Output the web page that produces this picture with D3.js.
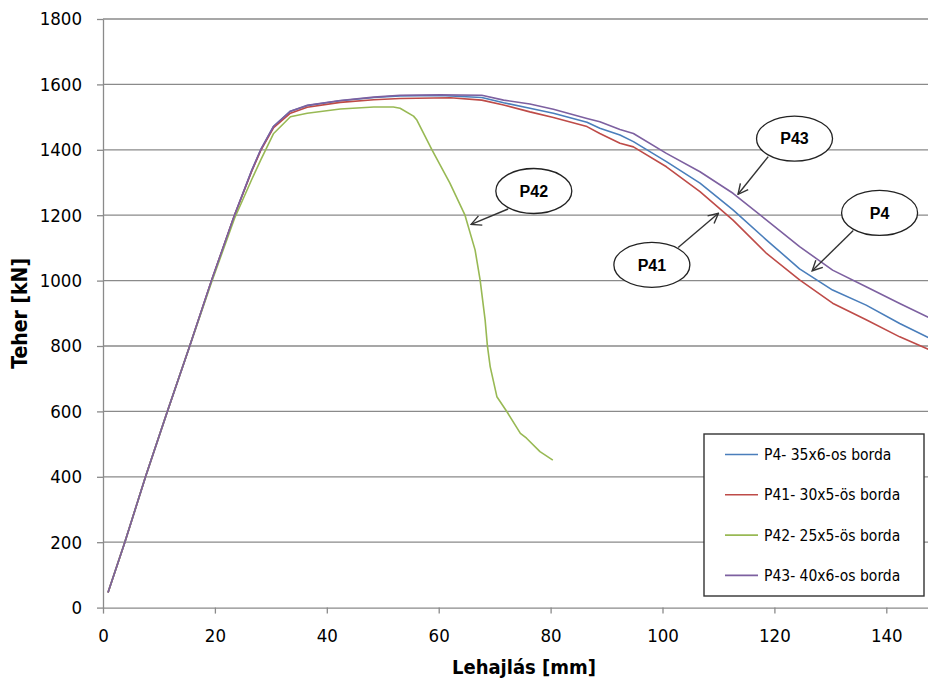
<!DOCTYPE html>
<html>
<head>
<meta charset="utf-8"/>
<title>Teher - Lehajlás</title>
<style>
body {margin: 0; background: #fff}
svg {display: block}
</style>
</head>
<body>
<div id="chart"></div>

<script src="https://d3js.org/d3.v7.min.js"></script>
<script>
// deflection [mm] and load [kN]
var p4_x  = [0.9, 3.9, 7.6, 11.5, 15.5, 19.4, 23.5, 26.6, 28.2, 30.5, 33.5, 36.5, 42.4, 48.4, 53.1, 60.3, 67.7, 71.6, 76.3, 80.5, 86.5, 88.8, 92.4, 94.8, 100.7, 106.7, 112.6, 118.6, 124.5, 130.4, 136.4, 142.4, 147.5]
var p4_y  = [46, 200, 400, 600, 800, 1000, 1200, 1337, 1400, 1472, 1518, 1535, 1550, 1560, 1565, 1566, 1560, 1544, 1527, 1512, 1484, 1466, 1445, 1425, 1364, 1298, 1216, 1124, 1036, 971, 925, 869, 826]

var p41_x = [0.9, 3.9, 7.6, 11.5, 15.5, 19.4, 23.5, 26.6, 28.2, 30.5, 33.5, 36.5, 42.4, 48.4, 53.1, 62.1, 67.7, 71.6, 76.3, 80.5, 86.5, 88.8, 92.4, 94.8, 100.7, 106.7, 112.6, 118.6, 124.5, 130.4, 136.4, 142.4, 147.5]
var p41_y = [46, 200, 400, 600, 800, 1000, 1200, 1335, 1398, 1468, 1512, 1530, 1545, 1553, 1557, 1559, 1552, 1537, 1516, 1499, 1471, 1450, 1420, 1409, 1348, 1272, 1185, 1083, 1002, 931, 880, 828, 790]

var p42_x = [0.9, 3.9, 7.6, 11.5, 15.5, 19.4, 23.5, 26.6, 28.2, 30.5, 33.5, 36.5, 42.4, 48.4, 51.9, 53.1, 55.5, 56.1, 58.8, 62.0, 64.7, 66.5, 67.4, 68.3, 68.7, 69.2, 70.4, 72.2, 74.6, 75.7, 78.1, 80.4]
var p42_y = [46, 200, 400, 600, 800, 995, 1190, 1310, 1369, 1450, 1501, 1512, 1525, 1531, 1531, 1527, 1503, 1491, 1400, 1298, 1200, 1094, 1002, 879, 801, 737, 645, 599, 533, 518, 477, 451]

var p43_x = [0.9, 3.9, 7.6, 11.5, 15.5, 19.4, 23.5, 26.6, 28.2, 30.5, 33.5, 36.5, 42.4, 48.4, 53.1, 60.3, 67.7, 71.6, 76.3, 80.5, 86.5, 88.8, 92.4, 94.8, 100.7, 106.7, 112.6, 118.6, 124.5, 130.4, 136.4, 142.4, 147.5]
var p43_y = [46, 200, 400, 600, 800, 1000, 1200, 1338, 1401, 1472, 1518, 1536, 1551, 1561, 1567, 1568, 1567, 1552, 1540, 1524, 1496, 1486, 1462, 1450, 1389, 1333, 1267, 1185, 1104, 1032, 981, 930, 888]

var seriesNames  = ["P4- 35x6-os borda", "P41- 30x5-ös borda", "P42- 25x5-ös borda", "P43- 40x6-os borda"]
var seriesColors = ["#4a7ebb", "#be4b48", "#98b954", "#7d60a0"]

var xTicks = [0, 20, 40, 60, 80, 100, 120, 140]
var yTicks = [0, 200, 400, 600, 800, 1000, 1200, 1400, 1600, 1800]

// callouts: label, ellipse centre and arrow (from -> to), in data units
var calloutLabels = ["P42", "P43", "P4", "P41"]
var calloutCenter = [[77.0, 1274], [123.6, 1434], [138.8, 1207], [98.1, 1048]]
var calloutFrom   = [[72.4, 1219], [118.9, 1379], [134.1, 1153], [102.8, 1101]]
var calloutTo     = [[65.8, 1172], [113.5, 1264], [126.75, 1030], [110.0, 1206]]

var series = [
  {name: seriesNames[0], color: seriesColors[0], x: p4_x,  y: p4_y},
  {name: seriesNames[1], color: seriesColors[1], x: p41_x, y: p41_y},
  {name: seriesNames[2], color: seriesColors[2], x: p42_x, y: p42_y},
  {name: seriesNames[3], color: seriesColors[3], x: p43_x, y: p43_y}
]

var width = 928,
    height = 684,
    margin = {top: 19, left: 103}
var plotW = 895.2,
    plotH = 588.6

var svg = d3.select("#chart")
  .append("svg")
    .attr("width", width)
    .attr("height", height)

var g = svg.append("g")
    .attr("transform", "translate(" + margin.left + "," + margin.top + ")")

var x = d3.scaleLinear().domain([0, 160]).range([0, plotW])
var y = d3.scaleLinear().domain([0, 1800]).range([plotH, 0])

var gridColor = "#8a8a8a"
var tickFont = "'DejaVu Sans Condensed', 'DejaVu Sans', sans-serif"

// horizontal grid
g.selectAll(".grid")
  .data(yTicks.slice(1))
  .enter()
  .append("line")
    .attr("x1", 0)
    .attr("x2", plotW)
    .attr("y1", function(d){ return y(d) })
    .attr("y2", function(d){ return y(d) })
    .attr("stroke", gridColor)
    .attr("stroke-width", 1.3)

// axes
var yAxis = g.append("g")
  .call(d3.axisLeft(y).tickValues(yTicks).tickFormat(d3.format("d"))
    .tickSize(6).tickSizeOuter(0).tickPadding(15))
var xAxis = g.append("g")
  .attr("transform", "translate(0," + plotH + ")")
  .call(d3.axisBottom(x).tickValues(xTicks).tickFormat(d3.format("d"))
    .tickSize(6).tickSizeOuter(0).tickPadding(15))

;[xAxis, yAxis].forEach(function(a) {
  a.select(".domain").attr("stroke", gridColor).attr("stroke-width", 1.3)
  a.selectAll(".tick line").attr("stroke", gridColor).attr("stroke-width", 1.3)
  a.selectAll(".tick text")
    .attr("fill", "#000")
    .style("font-family", tickFont)
    .style("font-size", "18.5px")
})

// axis titles
svg.append("text")
  .attr("transform", "translate(27," + (margin.top + plotH / 2) + ") rotate(-90)")
  .attr("text-anchor", "middle")
  .style("font-family", tickFont)
  .style("font-weight", "bold")
  .style("font-size", "21px")
  .text("Teher [kN]")

svg.append("text")
  .attr("x", 524)
  .attr("y", 674)
  .attr("text-anchor", "middle")
  .style("font-family", tickFont)
  .style("font-weight", "bold")
  .style("font-size", "20px")
  .text("Lehajlás [mm]")

// curves
var line = d3.line()
  .x(function(d){ return x(d[0]) })
  .y(function(d){ return y(d[1]) })

g.selectAll(".curve")
  .data(series)
  .enter()
  .append("path")
    .attr("d", function(s){ return line(d3.zip(s.x, s.y)) })
    .attr("fill", "none")
    .attr("stroke", function(s){ return s.color })
    .attr("stroke-width", 1.6)
    .attr("stroke-linejoin", "round")

// callouts
var defs = svg.append("defs")
defs.append("marker")
    .attr("id", "arrow")
    .attr("viewBox", "0 0 12 12")
    .attr("refX", 11)
    .attr("refY", 6)
    .attr("markerWidth", 12)
    .attr("markerHeight", 12)
    .attr("markerUnits", "userSpaceOnUse")
    .attr("orient", "auto")
  .append("path")
    .attr("d", "M1,1 L11,6 L1,11")
    .attr("fill", "none")
    .attr("stroke", "#333")
    .attr("stroke-width", 1.4)

var callouts = g.selectAll(".callout")
  .data(calloutLabels)
  .enter()
  .append("g")

callouts.append("line")
    .attr("x1", function(d, i){ return x(calloutFrom[i][0]) })
    .attr("y1", function(d, i){ return y(calloutFrom[i][1]) })
    .attr("x2", function(d, i){ return x(calloutTo[i][0]) })
    .attr("y2", function(d, i){ return y(calloutTo[i][1]) })
    .attr("stroke", "#333")
    .attr("stroke-width", 1.4)
    .attr("marker-end", "url(#arrow)")

callouts.append("ellipse")
    .attr("cx", function(d, i){ return x(calloutCenter[i][0]) })
    .attr("cy", function(d, i){ return y(calloutCenter[i][1]) })
    .attr("rx", 38)
    .attr("ry", 22.5)
    .attr("fill", "#fff")
    .attr("stroke", "#222")
    .attr("stroke-width", 1.3)

callouts.append("text")
    .attr("x", function(d, i){ return x(calloutCenter[i][0]) })
    .attr("y", function(d, i){ return y(calloutCenter[i][1]) })
    .attr("dy", "0.36em")
    .attr("text-anchor", "middle")
    .style("font-family", "'Liberation Sans', Arial, sans-serif")
    .style("font-weight", "bold")
    .style("font-size", "16px")
    .text(function(d){ return d })

// legend
var legend = svg.append("g")
legend.append("rect")
    .attr("x", 704)
    .attr("y", 434)
    .attr("width", 220)
    .attr("height", 162)
    .attr("fill", "#fff")
    .attr("stroke", "#333")
    .attr("stroke-width", 1.4)

var rows = legend.selectAll(".row")
  .data(series)
  .enter()
  .append("g")
    .attr("transform", function(d, i){ return "translate(725," + (454.5 + i * 40.3) + ")" })

rows.append("line")
    .attr("x1", 0)
    .attr("x2", 33)
    .attr("stroke", function(d){ return d.color })
    .attr("stroke-width", 1.6)

rows.append("text")
    .attr("x", 39)
    .attr("dy", "0.36em")
    .style("font-family", tickFont)
    .style("font-size", "15.5px")
    .text(function(d){ return d.name })
</script>
</body>
</html>
